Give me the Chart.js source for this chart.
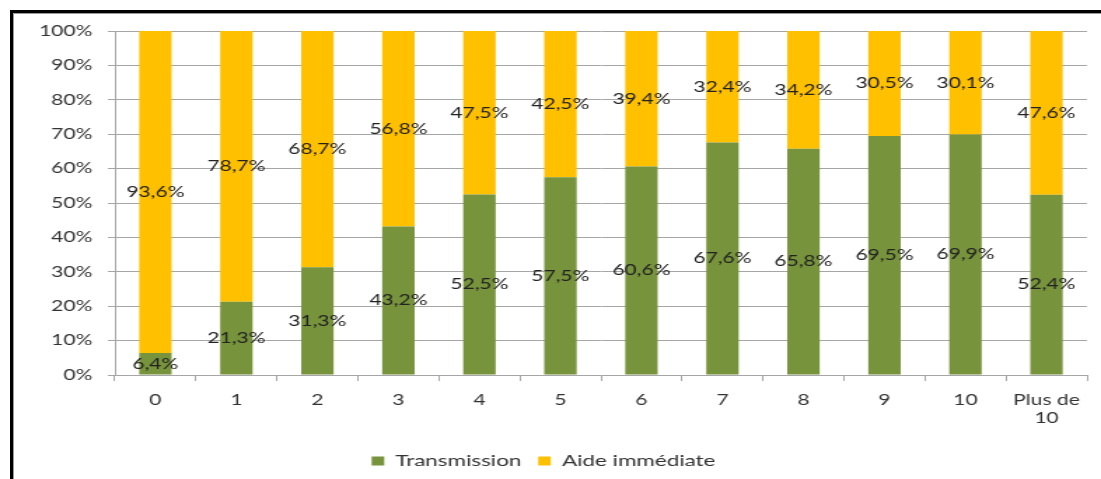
<!DOCTYPE html>
<html>
<head>
<meta charset="utf-8">
<script src="https://cdn.jsdelivr.net/npm/chart.js@4"></script>
<style>
  body { margin: 0; background: #fff; }
  #wrap { position: relative; width: 1101px; height: 479px; overflow: hidden; }
  #myChart { position: absolute; left: 0; top: 0; }
  .frame { position: absolute; left: 10px; top: 10px; right: 0; bottom: 0;
           border-left: 3px solid #000; border-top: 3px solid #000; }
  .frame2 { position: absolute; left: 13px; top: 13px; right: 0; bottom: 0;
            border-left: 1px solid #9a9a9a; border-top: 1px solid #9a9a9a; }
</style>
</head>
<body>
<div id="wrap">
  <canvas id="myChart" width="786" height="479" style="width:1101px;height:479px"></canvas>
  <div class="frame"></div>
  <div class="frame2"></div>
</div>
<script>
// the original picture is stretched sideways, so the canvas is drawn narrow and scaled up
var xValues = ["0", "1", "2", "3", "4", "5", "6", "7", "8", "9", "10", ["Plus de", "10"]];
var transmission = [6.4, 21.3, 31.3, 43.2, 52.5, 57.5, 60.6, 67.6, 65.8, 69.5, 69.9, 52.4];
var aide = [93.6, 78.7, 68.7, 56.8, 47.5, 42.5, 39.4, 32.4, 34.2, 30.5, 30.1, 47.6];
var seriesNames = ["Transmission", "Aide immédiate"];
var barColors = ["#77933C", "#FFC000"];
var yTicks = [0, 10, 20, 30, 40, 50, 60, 70, 80, 90, 100];

var fontName = "Lato";

function fmt(v) {
  return v.toFixed(1).replace(".", ",") + "%";
}

// values written in the middle of each segment
var segLabels = {
  id: "segLabels",
  afterDatasetsDraw: function(chart) {
    var ctx = chart.ctx;
    ctx.save();
    ctx.font = "15px " + fontName;
    ctx.fillStyle = "#222";
    ctx.textAlign = "center";
    ctx.textBaseline = "middle";
    chart.data.datasets.forEach(function(ds, i) {
      var meta = chart.getDatasetMeta(i);
      meta.data.forEach(function(el, j) {
        ctx.fillText(fmt(ds.data[j]), el.x, (el.y + el.base) / 2);
      });
    });
    ctx.restore();
  }
};

new Chart("myChart", {
  type: "bar",
  data: {
    labels: xValues,
    datasets: [{
      label: seriesNames[0],
      data: transmission,
      backgroundColor: barColors[0],
      borderWidth: 0,
      categoryPercentage: 1,
      barPercentage: 0.4
    }, {
      label: seriesNames[1],
      data: aide,
      backgroundColor: barColors[1],
      borderWidth: 0,
      categoryPercentage: 1,
      barPercentage: 0.4
    }]
  },
  options: {
    responsive: false,
    animation: false,
    layout: { padding: { top: 31, right: 10, bottom: 0, left: 0 } },
    plugins: {
      tooltip: { enabled: false },
      legend: {
        position: "bottom",
        labels: {
          font: { family: fontName, size: 16 },
          color: "#333",
          boxWidth: 9,
          boxHeight: 9,
          padding: 12
        }
      }
    },
    scales: {
      x: {
        stacked: true,
        grid: { display: true, drawOnChartArea: false, color: "#a6a6a6", tickLength: 6 },
        border: { color: "#a6a6a6" },
        ticks: { font: { family: fontName, size: 15 }, color: "#333", padding: 10, maxRotation: 0 },
        afterFit: function(s) { s.height = 66; }
      },
      y: {
        stacked: true,
        min: 0,
        max: 100,
        afterBuildTicks: function(s) { s.ticks = yTicks.map(function(v) { return { value: v }; }); },
        grid: { color: "#a6a6a6", tickLength: 5 },
        border: { color: "#a6a6a6" },
        ticks: {
          font: { family: fontName, size: 15 },
          color: "#333",
          padding: 11,
          callback: function(v) { return v + "%"; }
        },
        afterFit: function(s) { s.width = 82; }
      }
    }
  },
  plugins: [segLabels]
});
</script>
</body>
</html>
